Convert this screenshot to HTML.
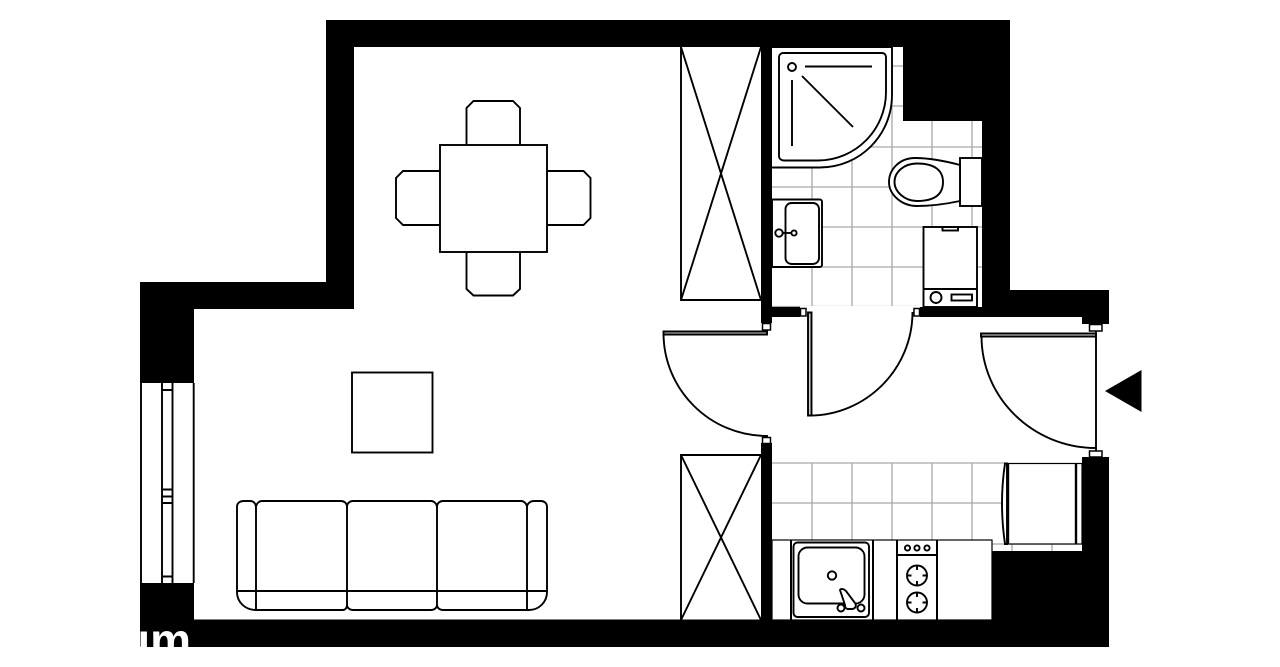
<!DOCTYPE html>
<html>
<head>
<meta charset="utf-8">
<style>
html,body{margin:0;padding:0;background:#fff;width:1280px;height:667px;overflow:hidden}
svg{display:block}
</style>
</head>
<body>
<svg width="1280" height="667" viewBox="0 0 1280 667" xmlns="http://www.w3.org/2000/svg">
<rect width="1280" height="667" fill="#fff"/>
<!-- tiles -->
<g stroke="#a8a8a8" stroke-width="1.300" fill="none">
<path d="M892 47V306M932 121V306M972 121V306M812 160V306M852 160V306M892 66H903M892 106H903M772 147H982M772 187H982M772 227H982M772 267H982M772 306.500H920"/>
<path d="M812 463V540M852 463V540M892 463V540M932 463V540M972 463V540M772 463H1004M772 503H1004M1012 544V551M1052 544V551M992 544H1082"/>
</g>
<!-- walls -->
<path fill="#000" d="M326 20H1010V290H1109V324H1082V317H772V307H982V121H903V47H354V309H194V383H140V282H326Z"/>
<path fill="#000" d="M761 47H772V323H761Z"/>
<path fill="#fff" d="M800 306H920V317H800Z"/>
<path fill="#000" d="M140 583H194V619.500H761V443H772V620H992V551H1082V457H1109V647H140Z"/>
<!-- hinges -->
<g fill="#fff" stroke="#000" stroke-width="1.500">
<rect x="762.500" y="323.500" width="8" height="6.500"/>
<rect x="762.500" y="437.500" width="8" height="6"/>
<rect x="800.500" y="308.500" width="5.500" height="7.500"/>
<rect x="914" y="308.500" width="5.500" height="7.500"/>
<rect x="1089.500" y="324.500" width="12.500" height="6.500"/>
<rect x="1089.500" y="451" width="12.500" height="6"/>
</g>
<g fill="none" stroke="#000" stroke-width="1.900">
<!-- window -->
<path d="M141 383V583M193.700 383V583M162 383V583M172.500 383V583M162 390H172.500M162 489.500H172.500M162 496.500H172.500M162 503H172.500M162 576.500H172.500"/>
<!-- wardrobes -->
<path d="M681 47V300H761M681 47L761 300M761 47L681 300"/>
<path d="M761 455H681V620M681 455L761 620M761 455L681 620"/>
<!-- table -->
<rect x="440" y="145" width="107" height="107"/>
<path d="M466.500 145V108L473.500 101H513L520 108V145"/>
<path d="M466.500 252V289L473.500 295.500H513L520 289V252"/>
<path d="M440 171H403L396 178V218L403 225H440"/>
<path d="M547 171H583.500L590.500 178V218L583.500 225H547"/>
<rect x="352" y="372.500" width="80.500" height="80"/>
<!-- sofa -->
<path d="M237 591V507C237 503 240 501 244 501H250C254 501 256 504 256 508V610M237 591V592C237 602 245 610 256 610H343C345 610 347 608 347 605V507C347 503 344 501 341 501H262C259 501 256 504 256 507M347 507C347 503 350 501 353 501H431C434 501 437 504 437 507V605C437 608 434 610 431 610H353C350 610 347 608 347 605M437 507C437 503 440 501 443 501H521C524 501 527 504 527 507V610M437 605C437 608 440 610 443 610H527M527 610H529C539 610 547 602 547 592V507C547 503 544 501 541 501H534C530 501 527 504 527 507M237 591H547"/>
<!-- shower -->
<path fill="#fff" d="M772 167.500H820C860 167.500 892 135 892 95V47H772"/>
<path d="M783 53H882C884.500 53 886 55 886 57V92C886 130 855 160.500 818 160.500H784C781 160.500 779 158.500 779 156V57C779 55 781 53 783 53Z"/>
<circle cx="792" cy="67" r="4"/>
<path d="M805 66.500H872M792 80V146M802 76L853 127"/>
<!-- toilet -->
<rect x="960" y="158" width="22" height="48" fill="#fff"/>
<path fill="#fff" d="M960 165C945 161 928 158 915 158C899 158 889 170 889 182C889 195 902 206 917 206C930 206 946 204 960 201Z"/>
<path d="M917 163.500C904 163.500 894.500 172 894.500 182C894.500 192 905 201 917 201C934 201 943 195 943 182C943 170 934 163.500 917 163.500Z"/>
<!-- bath sink -->
<path fill="#fff" d="M772 199.500H820C821 199.500 822 200.500 822 201.500V265C822 266 821 267 820 267H772Z"/>
<rect x="785.500" y="203" width="33.500" height="61" rx="6"/>
<circle cx="779" cy="233" r="3.700"/>
<circle cx="794" cy="233" r="2.600"/>
<path d="M783 233H791.500"/>
<!-- washer -->
<rect x="923.500" y="227" width="53.500" height="80" fill="#fff"/>
<path d="M923.500 289H977"/>
<circle cx="936" cy="297.500" r="5.500"/>
<rect x="951.500" y="294.500" width="20.500" height="6"/>
<rect x="942.500" y="227" width="15.500" height="3.500"/>
<!-- doors -->
<path fill="#ccc" d="M663.500 331.500H767V334.500H663.500Z"/>
<path d="M663.500 333C663.500 390 710 436 767 436V437M767 330V334"/>
<path fill="#ccc" d="M808 312.500H811.500V415.500H808Z"/>
<path d="M809.500 415.500C866 415.500 912.500 369 912.500 312"/>
<path fill="#e0e0e0" d="M981 333.500H1096V336.500H981Z"/>
<path d="M981.500 336C981.500 398 1033 448 1096 448M1096 331V451"/>
<!-- fridge -->
<rect x="1005" y="463.500" width="77" height="80.500" fill="#fff" stroke-width="1.200"/>
<path fill="#fff" d="M1005 463.500Q999 503 1005 544H1007V463.500Z"/>
<path stroke-width="2.400" d="M1008 463.500V544M1076 463.500V544"/>
<!-- counter -->
<rect x="772" y="540" width="220" height="80" fill="#fff" stroke-width="1.200"/>
<path stroke-width="2" d="M791 540V620M873 540V620M897 540V620M937 540V620"/>
<rect x="793.500" y="542.500" width="75.500" height="74.500" rx="4"/>
<rect x="798.500" y="547.500" width="66" height="56" rx="9"/>
<circle cx="832" cy="575.500" r="4.200"/>
<circle cx="841" cy="608" r="3.500"/>
<circle cx="861" cy="608" r="3.500"/>
<path fill="#fff" d="M840 590C841 588 844 589 846 591L855 603C857 606 855 609 852 609H848C846 609 845 607 845 605Z"/>
<path stroke-width="2" d="M897 555H937"/>
<circle cx="907.500" cy="548" r="2.600"/>
<circle cx="917" cy="548" r="2.600"/>
<circle cx="927" cy="548" r="2.600"/>
<circle cx="917" cy="575.500" r="10"/>
<circle cx="917" cy="602.500" r="10"/>
<path d="M917 565.500V570M917 581V585.500M907 575.500H911.500M922.500 575.500H927M917 592.500V597M917 608V612.500M907 602.500H911.500M922.500 602.500H927"/>
</g>
<!-- entrance arrow -->
<path fill="#000" d="M1105 391L1141.500 370V412Z"/>
<!-- watermark -->
<text x="122" y="656" font-family="'Liberation Sans',sans-serif" font-weight="700" font-size="46" fill="#fff">um</text>
</svg>
</body>
</html>
